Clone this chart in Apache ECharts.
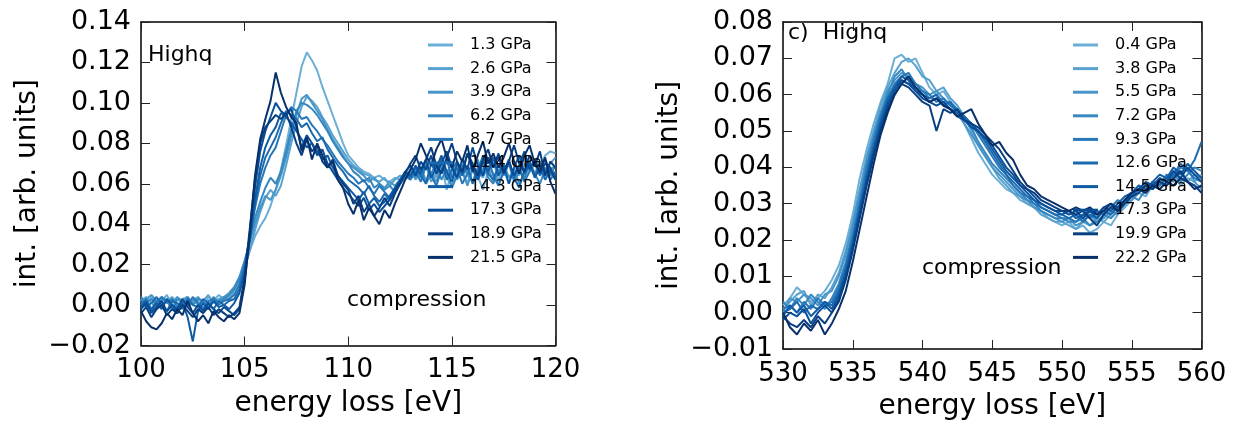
<!DOCTYPE html>
<html>
<head>
<meta charset="utf-8">
<script src="https://cdn.jsdelivr.net/npm/echarts@6/dist/echarts.min.js"></script>
<style>
html,body{margin:0;padding:0;background:#fff;}
#chart{width:1240px;height:426px;}
</style>
</head>
<body>
<div id="chart"></div>
<script>
// ---------- DATA ----------
const energyLeft = [100,100.25,100.5,100.75,101,101.25,101.5,101.75,102,102.25,102.5,102.75,103,103.25,103.5,103.75,104,104.25,104.5,104.75,105,105.25,105.5,105.75,106,106.25,106.5,106.75,107,107.25,107.5,107.75,108,108.25,108.5,108.75,109,109.25,109.5,109.75,110,110.25,110.5,110.75,111,111.25,111.5,111.75,112,112.25,112.5,112.75,113,113.25,113.5,113.75,114,114.25,114.5,114.75,115,115.25,115.5,115.75,116,116.25,116.5,116.75,117,117.25,117.5,117.75,118,118.25,118.5,118.75,119,119.25,119.5,119.75,120];
const pressuresLeft = ['1.3 GPa','2.6 GPa','3.9 GPa','6.2 GPa','8.7 GPa','11.4 GPa','14.3 GPa','17.3 GPa','18.9 GPa','21.5 GPa'];
const left_1_3 = [.003,.000,.004,.001,.002,.005,.000,-.002,.003,.004,.001,.002,-.001,.004,.002,.005,.003,.004,.008,
 .012,.019,.027,.034,.039,.043,.049,.057,.067,.079,.092,.105,.118,.125,.121,.116,.108,.101,.094,.087,.080,.074,
 .071,.068,.066,.065,.063,.064,.062,.061,.063,.062,.064,.066,
 .064,.068,.062,.066,.063,.070,.057,.066,.063,.067,.060,.069,.064,.057,.066,.071,.062,.067,.060,.068,.064,.070,.066,.072,.068,.074,.076,.075];
const left_2_6 = [.002,.004,.001,-.001,.003,.002,.004,.001,-.001,.002,.003,.000,.002,.005,.001,.003,.004,.002,.007,
 .011,.018,.027,.037,.046,.053,.057,.054,.059,.069,.080,.090,.098,.103,.101,.098,.093,.089,.084,.080,.076,.072,
 .069,.067,.065,.064,.062,.061,.063,.059,.062,.064,.063,.067,
 .062,.066,.069,.061,.065,.068,.063,.059,.066,.070,.064,.061,.067,.063,.069,.065,.060,.066,.071,.063,.067,.062,.069,.065,.071,.066,.070,.073];
const left_3_9 = [.001,.003,.005,.002,.000,.003,.001,.004,.002,-.001,.002,.004,.001,.000,.003,.002,.004,.006,.009,
 .014,.022,.031,.040,.048,.054,.052,.057,.064,.073,.084,.094,.102,.104,.100,.096,.092,.087,.082,.078,.074,.070,
 .068,.066,.064,.061,.063,.060,.058,.061,.059,.062,.065,.064,
 .067,.063,.070,.065,.061,.068,.064,.071,.062,.066,.059,.067,.072,.064,.068,.061,.066,.070,.063,.067,.060,.065,.069,.064,.070,.062,.067,.069];
const left_6_2 = [.004,.001,.003,.000,.004,.002,-.002,.003,.001,.004,.000,.003,.002,-.001,.004,.001,.003,.005,.008,
 .013,.021,.032,.043,.051,.058,.063,.060,.066,.076,.087,.096,.100,.099,.097,.094,.090,.086,.081,.077,.073,.070,
 .066,.064,.061,.063,.058,.060,.057,.059,.056,.060,.063,.066,
 .063,.068,.060,.065,.070,.062,.067,.058,.064,.069,.066,.061,.068,.072,.063,.060,.067,.064,.070,.061,.066,.063,.071,.065,.060,.067,.064,.069];
const left_8_7 = [.000,.003,-.002,.002,.004,.001,.003,-.001,.002,.000,.004,.001,-.002,.002,.003,.000,.002,.003,.005,
 .010,.020,.033,.048,.060,.068,.074,.078,.086,.094,.098,.096,.092,.093,.089,.086,.082,.079,.075,.071,.068,.065,
 .063,.060,.062,.058,.055,.059,.056,.053,.057,.060,.064,.062,
 .066,.061,.069,.064,.059,.067,.072,.063,.068,.060,.065,.070,.062,.067,.073,.064,.059,.066,.071,.063,.068,.061,.066,.070,.064,.068,.062,.066];
const left_11_4 = [.002,-.001,.001,.004,.000,-.003,.002,.001,-.002,.003,.000,-.001,.003,.001,-.002,.002,.000,.002,.003,
 .008,.019,.034,.050,.064,.073,.078,.083,.090,.096,.094,.092,.088,.090,.085,.081,.083,.077,.073,.069,.066,.062,
 .060,.058,.055,.059,.054,.051,.055,.052,.056,.061,.065,.063,
 .068,.064,.060,.070,.065,.073,.062,.067,.071,.064,.069,.060,.066,.074,.065,.062,.069,.066,.072,.063,.058,.067,.071,.064,.069,.062,.067,.064];
const left_14_3 = [-.001,.002,-.003,.001,-.002,.003,.000,-.004,.001,-.006,-.018,-.003,.001,-.002,.002,-.001,.000,-.002,.001,
 .006,.016,.032,.052,.068,.078,.084,.088,.095,.093,.090,.086,.082,.078,.080,.076,.072,.074,.068,.064,.061,.058,
 .055,.052,.056,.050,.053,.049,.051,.054,.058,.062,.066,.064,
 .069,.065,.072,.063,.068,.074,.066,.061,.070,.065,.075,.067,.062,.071,.066,.073,.064,.069,.060,.068,.074,.065,.070,.063,.068,.072,.066,.062];
const left_17_3 = [-.002,.001,-.004,-.001,.002,-.003,.000,-.002,.003,-.001,-.004,.000,-.003,.001,-.002,-.004,-.001,-.003,-.005,
 -.002,.012,.034,.058,.076,.086,.093,.100,.096,.094,.097,.088,.078,.084,.080,.074,.077,.070,.066,.062,.058,.055,
 .052,.049,.053,.047,.050,.046,.049,.052,.057,.061,.066,.069,
 .064,.071,.067,.074,.065,.070,.076,.068,.063,.072,.067,.078,.069,.064,.073,.068,.075,.066,.071,.064,.069,.076,.067,.072,.065,.070,.068,.062];
const left_18_9 = [-.004,-.001,-.006,-.002,.000,-.005,-.002,-.004,.000,-.003,-.006,-.002,-.004,-.001,-.005,-.002,-.004,-.006,-.004,
 -.001,.014,.038,.062,.080,.088,.091,.094,.092,.095,.088,.080,.074,.082,.076,.079,.071,.068,.072,.064,.060,.057,
 .050,.054,.046,.050,.044,.048,.053,.049,.055,.060,.065,.070,
 .074,.067,.072,.078,.069,.065,.073,.080,.071,.066,.075,.070,.064,.072,.077,.068,.074,.065,.071,.079,.070,.066,.074,.069,.076,.064,.071,.068];
const left_21_5 = [-.003,-.008,-.011,-.012,-.009,-.004,-.007,-.002,-.005,.002,-.004,-.008,-.005,-.009,-.003,-.006,-.008,-.005,-.007,
 -.004,.010,.036,.064,.082,.092,.101,.115,.105,.098,.093,.090,.076,.083,.072,.080,.074,.068,.071,.062,.058,.050,
 .045,.052,.042,.048,.044,.040,.047,.043,.050,.056,.062,.067,
 .072,.080,.074,.069,.077,.082,.073,.068,.076,.071,.079,.066,.074,.081,.070,.075,.068,.073,.080,.071,.065,.074,.079,.070,.066,.073,.061,.055];

const energyRight = [530,530.5,531,531.5,532,532.5,533,533.5,534,534.5,535,535.5,536,536.5,537,537.5,538,538.5,539,539.5,540,540.5,541,541.5,542,542.5,543,543.5,544,544.5,545,545.5,546,546.5,547,547.5,548,548.5,549,549.5,550,550.5,551,551.5,552,552.5,553,553.5,554,554.5,555,555.5,556,556.5,557,557.5,558,558.5,559,559.5,560];
const pressuresRight = ['0.4 GPa','3.8 GPa','5.5 GPa','7.2 GPa','9.3 GPa','12.6 GPa','14.5 GPa','17.3 GPa','19.9 GPa','22.2 GPa'];
const right_0_4 = [.002,.004,.007,.005,.003,.004,.006,.009,.013,.019,.027,
 .037,.045,.052,.058,.063,.070,.071,.069,.070,.066,
 .062,.060,.061,.058,.055,.052,.048,.044,.041,.038,
 .036,.034,.033,.031,.030,.029,.028,.026,.025,.024,
 .025,.023,.024,.022,.023,.025,.024,.027,.029,.031,
 .033,.032,.035,.034,.036,.038,.035,.037,.036,.038];
const right_3_8 = [.001,.003,.005,.006,.002,.005,.004,.007,.011,.017,.025,
 .034,.043,.050,.057,.062,.066,.069,.070,.068,.065,
 .064,.061,.062,.059,.057,.054,.050,.046,.043,.040,
 .037,.035,.033,.032,.030,.029,.027,.026,.025,.025,
 .024,.023,.025,.024,.026,.025,.027,.029,.030,.032,
 .034,.033,.036,.035,.037,.036,.039,.036,.038,.037];
const right_5_5 = [.000,.004,.003,.005,.004,.002,.005,.006,.010,.016,.024,
 .033,.042,.049,.055,.061,.064,.066,.065,.063,.062,
 .060,.061,.059,.057,.055,.052,.049,.046,.043,.040,
 .038,.036,.034,.032,.031,.029,.028,.027,.026,.025,
 .026,.024,.025,.027,.025,.026,.028,.027,.030,.031,
 .033,.035,.034,.036,.035,.038,.037,.040,.036,.034];
const right_7_2 = [.003,.001,.004,.002,.005,.003,.001,.004,.008,.014,.022,
 .031,.040,.048,.055,.060,.065,.067,.064,.062,.061,
 .059,.060,.058,.058,.056,.054,.051,.047,.044,.041,
 .039,.037,.035,.033,.031,.030,.028,.027,.026,.026,
 .025,.025,.026,.024,.025,.027,.026,.028,.030,.032,
 .031,.034,.036,.035,.037,.039,.036,.038,.040,.039];
const right_9_3 = [.001,.002,.000,.003,.001,.004,.002,.003,.007,.013,.021,
 .030,.040,.047,.054,.059,.063,.065,.066,.063,.061,
 .060,.058,.059,.057,.056,.054,.052,.049,.046,.043,
 .040,.038,.035,.033,.032,.030,.029,.028,.027,.026,
 .026,.025,.027,.026,.028,.027,.029,.031,.030,.033,
 .034,.033,.036,.035,.038,.037,.040,.039,.037,.036];
const right_12_6 = [.000,.001,.003,.000,.002,.001,.003,.002,.006,.012,.020,
 .029,.038,.046,.053,.059,.062,.064,.063,.062,.060,
 .059,.060,.057,.058,.055,.054,.052,.050,.047,.044,
 .041,.038,.036,.034,.032,.031,.029,.028,.027,.027,
 .026,.027,.025,.027,.026,.028,.027,.029,.031,.032,
 .034,.035,.034,.037,.036,.038,.041,.039,.042,.047];
const right_14_5 = [-.001,.002,.000,.002,-.001,.001,.003,.001,.005,.011,.019,
 .028,.037,.045,.052,.058,.062,.065,.064,.061,.060,
 .058,.059,.057,.056,.055,.053,.052,.050,.048,.045,
 .042,.039,.037,.035,.033,.031,.030,.029,.028,.027,
 .028,.026,.027,.028,.026,.029,.028,.030,.032,.033,
 .035,.034,.036,.038,.037,.040,.038,.041,.039,.037];
const right_17_3 = [-.002,.000,-.001,.001,-.003,.000,.002,.000,.004,.010,.018,
 .027,.036,.044,.051,.057,.061,.064,.063,.061,.059,
 .058,.057,.058,.056,.054,.053,.051,.050,.048,.046,
 .043,.040,.038,.035,.034,.032,.030,.029,.028,.028,
 .027,.028,.026,.028,.027,.029,.030,.029,.031,.033,
 .034,.036,.035,.037,.036,.039,.037,.040,.038,.036];
const right_19_9 = [-.001,-.003,-.004,-.002,-.004,-.001,-.003,.000,.003,.009,.017,
 .026,.035,.043,.050,.056,.060,.063,.062,.060,.058,
 .057,.050,.056,.055,.056,.053,.052,.051,.049,.047,
 .045,.042,.039,.036,.034,.033,.031,.030,.029,.028,
 .028,.027,.028,.026,.024,.027,.029,.028,.030,.032,
 .033,.035,.034,.036,.035,.037,.039,.036,.035,.033];
const right_22_2 = [.000,-.004,-.006,-.003,-.005,-.002,-.006,-.003,.001,.006,.014,
 .023,.032,.041,.049,.055,.060,.063,.065,.062,.060,
 .058,.059,.057,.056,.054,.055,.056,.052,.049,.046,
 .047,.044,.042,.038,.035,.034,.032,.031,.030,.029,
 .028,.029,.028,.029,.027,.028,.030,.028,.031,.033,
 .034,.033,.035,.034,.036,.035,.037,.036,.034,.035];

const seriesLeft = [left_1_3,left_2_6,left_3_9,left_6_2,left_8_7,left_11_4,left_14_3,left_17_3,left_18_9,left_21_5];
const seriesRight = [right_0_4,right_3_8,right_5_5,right_7_2,right_9_3,right_12_6,right_14_5,right_17_3,right_19_9,right_22_2];

const xTicksLeft = {min:100, max:120, interval:5};
const yTicksLeft = {min:-0.02, max:0.14, interval:0.02};
const xTicksRight = {min:530, max:560, interval:5};
const yTicksRight = {min:-0.01, max:0.08, interval:0.01};

// ---------- STYLE ----------
const blues = ['#6baed6','#59a2cf','#4795c8','#3787c0','#2878b9','#1b6aaf','#105ca4','#084d97','#083f81','#08306b'];
const FONT = 'DejaVu Sans';

const chart = echarts.init(document.getElementById('chart'), null, {renderer:'canvas'});

function fmt(d){ return v => (v < -1e-9 ? '\u2212' : '') + Math.abs(v).toFixed(d); }

const axisLine = {show:true, onZero:false, lineStyle:{color:'#000', width:1.5}};
const axisTick = {show:true, inside:true, length:9, lineStyle:{color:'#222', width:1}};

function xAx(grid, t, pos, labels){
  return {type:'value', gridIndex:grid, position:pos, min:t.min, max:t.max, interval:t.interval,
    axisLine, axisTick, splitLine:{show:false},
    axisLabel:{show:labels, margin:12, fontFamily:FONT, fontSize:26, color:'#000', formatter:v=>String(Math.round(v))},
    name: labels ? 'energy loss [eV]' : '', nameLocation:'middle', nameGap:44,
    nameTextStyle:{fontFamily:FONT, fontSize:28, color:'#000'}};
}
function yAx(grid, t, pos, labels){
  return {type:'value', gridIndex:grid, position:pos, min:t.min, max:t.max, interval:t.interval,
    axisLine, axisTick, splitLine:{show:false},
    axisLabel:{show:labels, margin:10, fontFamily:FONT, fontSize:27, color:'#000', formatter:fmt(2)},
    name: labels ? 'int. [arb. units]' : '', nameLocation:'middle', nameGap:99, nameRotate:90,
    nameTextStyle:{fontFamily:FONT, fontSize:28, color:'#000'}};
}

const series = [];
seriesLeft.forEach((arr,k)=>{
  series.push({type:'line', name:pressuresLeft[k], xAxisIndex:0, yAxisIndex:0, symbol:'none',
    color:blues[k], lineStyle:{width:2, color:blues[k]},
    data: energyLeft.map((e,i)=>[e, arr[i]])});
});
seriesRight.forEach((arr,k)=>{
  series.push({type:'line', name:pressuresRight[k], xAxisIndex:2, yAxisIndex:2, symbol:'none',
    color:blues[k], lineStyle:{width:2, color:blues[k]},
    data: energyRight.map((e,i)=>[e, arr[i]])});
});

function legend(names, left){
  return {show:true, orient:'vertical', left:left, top:37, padding:0, itemGap:7.6,
    itemWidth:25, itemHeight:3, icon:'rect', selectedMode:false,
    textStyle:{fontFamily:FONT, fontSize:16, lineHeight:16, color:'#000', padding:[0,0,0,12]},
    data: names.map((n,k)=>({name:n, itemStyle:{color:blues[k]}}))};
}

function label(text, x, y){
  return {type:'text', x:x, y:y, z:100,
    style:{text:text, font:'22px "DejaVu Sans"', fill:'#000', verticalAlign:'middle', textVerticalAlign:'middle'}};
}

chart.setOption({
  animation:false,
  backgroundColor:'#fff',
  grid:[
    {left:141, top:22, width:414.5, height:323.5, containLabel:false},
    {left:783, top:22, width:418.5, height:327, containLabel:false}
  ],
  xAxis:[
    xAx(0, xTicksLeft, 'bottom', true),
    xAx(0, xTicksLeft, 'top', false),
    xAx(1, xTicksRight, 'bottom', true),
    xAx(1, xTicksRight, 'top', false)
  ],
  yAxis:[
    yAx(0, yTicksLeft, 'left', true),
    yAx(0, yTicksLeft, 'right', false),
    yAx(1, yTicksRight, 'left', true),
    yAx(1, yTicksRight, 'right', false)
  ],
  legend:[legend(pressuresLeft, 428), legend(pressuresRight, 1073)],
  graphic:[
    label('Highq', 148, 55),
    label('compression', 347, 300),
    label('c)  Highq', 788, 33),
    label('compression', 922, 268)
  ],
  series: series
});
</script>
</body>
</html>
